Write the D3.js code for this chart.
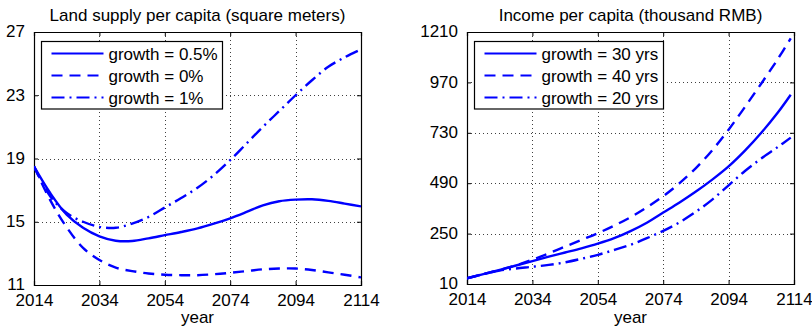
<!DOCTYPE html>
<html>
<head>
<meta charset="utf-8">
<script src="https://cdn.jsdelivr.net/npm/d3@7"></script>
<style>
  html, body { margin: 0; padding: 0; background: #fff; }
  svg { display: block; }
  text { font-family: "Liberation Sans", Arial, Helvetica, sans-serif; font-size: 17px; fill: #000; }
</style>
</head>
<body>
<svg id="chart" width="812" height="331"></svg>
<script>
// Simulation years (5-year steps)
const years = [2014, 2019, 2024, 2029, 2034, 2039, 2044, 2049, 2054, 2059, 2064,
               2069, 2074, 2079, 2084, 2089, 2094, 2099, 2104, 2109, 2114];
const incomeYears = [2014, 2019, 2024, 2029, 2034, 2039, 2044, 2049, 2054, 2059, 2064,
                     2069, 2074, 2079, 2084, 2089, 2094, 2099, 2104, 2109, 2113];

// Land supply per capita (square meters)
const landGrowth05 = [18.5, 16.8, 15.45, 14.62, 14.08, 13.8, 13.78, 13.95, 14.15, 14.35, 14.58,
                      14.88, 15.22, 15.62, 16.04, 16.3, 16.4, 16.42, 16.32, 16.15, 15.97];
const landGrowth0  = [18.5, 16.35, 14.65, 13.35, 12.58, 12.1, 11.88, 11.73, 11.65, 11.62, 11.62,
                      11.68, 11.77, 11.88, 11.99, 12.04, 12.04, 11.95, 11.8, 11.65, 11.48];
const landGrowth1  = [18.5, 16.6, 15.55, 15.0, 14.68, 14.62, 14.88, 15.3, 15.9, 16.5, 17.15,
                      17.95, 18.9, 19.95, 21.0, 22.0, 23.0, 23.95, 24.8, 25.4, 25.9];

// Income per capita (thousand RMB)
const income30 = [37, 57, 77, 98, 119, 140, 160, 180, 202, 228, 262,
                  302, 350, 398, 450, 507, 570, 645, 730, 825, 911];
const income40 = [37, 57, 77, 99, 126, 156, 188, 220, 252, 288, 328,
                  375, 428, 490, 562, 647, 745, 853, 965, 1080, 1180];
const income20 = [37, 57, 74, 84, 92, 101, 113, 130, 149, 172, 197,
                  228, 263, 304, 354, 412, 480, 548, 608, 662, 707];

const xTicks = [2014, 2034, 2054, 2074, 2094, 2114];
const landTicks = [11, 15, 19, 23, 27];
const incomeTicks = [10, 250, 490, 730, 970, 1210];

const landLabels = ["growth = 0.5%", "growth = 0%", "growth = 1%"];
const incomeLabels = ["growth = 30 yrs", "growth = 40 yrs", "growth = 20 yrs"];

const dashStyles = [null, "11,7", "13,5,2,5"];
const BLUE = "#0000ff";

const svg = d3.select("#chart");

function panel(opts) {
  const { x0, x1, y0, y1, yDomain, yTicks, title, xs, series, labels, legendBox } = opts;
  const x = d3.scaleLinear().domain([2014, 2114]).range([x0, x1]);
  const y = d3.scaleLinear().domain(yDomain).range([y1, y0]);
  const g = svg.append("g");

  // dotted grid at interior ticks
  const grid = g.append("g").attr("stroke", "#000").attr("stroke-width", 1)
    .attr("stroke-dasharray", "1,3").attr("stroke-opacity", 0.75);
  xTicks.slice(1, -1).forEach(t => {
    grid.append("line").attr("x1", Math.round(x(t)) + 0.5).attr("x2", Math.round(x(t)) + 0.5)
      .attr("y1", y0).attr("y2", y1);
  });
  yTicks.slice(1, -1).forEach(t => {
    grid.append("line").attr("y1", Math.round(y(t)) + 0.5).attr("y2", Math.round(y(t)) + 0.5)
      .attr("x1", x0).attr("x2", x1);
  });

  // axes: labelled bottom/left, inward ticks on all four sides
  const bottom = g.append("g").attr("transform", `translate(0,${y1})`)
    .call(d3.axisBottom(x).tickValues(xTicks).tickFormat(d3.format("d")).tickSize(-4).tickPadding(8));
  const left = g.append("g").attr("transform", `translate(${x0},0)`)
    .call(d3.axisLeft(y).tickValues(yTicks).tickFormat(d3.format("d")).tickSize(-4).tickPadding(9));
  const top = g.append("g").attr("transform", `translate(0,${y0})`)
    .call(d3.axisTop(x).tickValues(xTicks).tickFormat("").tickSize(-4));
  const right = g.append("g").attr("transform", `translate(${x1},0)`)
    .call(d3.axisRight(y).tickValues(yTicks).tickFormat("").tickSize(-4));
  [bottom, left, top, right].forEach(a => {
    a.select(".domain").attr("stroke", "#000").attr("stroke-width", 1.2);
    a.selectAll(".tick line").attr("stroke", "#000");
    a.selectAll("text").attr("font-size", null).attr("font-family", null).attr("fill", "#000");
  });
  bottom.selectAll("text").attr("dy", "0.76em");
  left.selectAll("text").attr("dy", "0.28em");

  // title and x label
  g.append("text").attr("x", (x0 + x1) / 2).attr("y", 21).attr("text-anchor", "middle").text(title);
  g.append("text").attr("x", (x0 + x1) / 2).attr("y", 323).attr("text-anchor", "middle").text("year");

  // data lines
  const lineGen = d3.line().x((d, i) => x(xs[i])).y(d => y(d)).curve(d3.curveCatmullRom.alpha(0.5));
  const clipId = "clip" + Math.round(x0);
  g.append("clipPath").attr("id", clipId).append("rect")
    .attr("x", x0).attr("y", y0).attr("width", x1 - x0).attr("height", y1 - y0);
  series.forEach((s, i) => {
    g.append("path").attr("d", lineGen(s)).attr("fill", "none").attr("stroke", BLUE)
      .attr("stroke-width", 2.4).attr("stroke-dasharray", dashStyles[i])
      .attr("clip-path", `url(#${clipId})`);
  });

  // legend
  const lg = g.append("g");
  lg.append("rect").attr("x", legendBox.x).attr("y", legendBox.y)
    .attr("width", legendBox.w).attr("height", legendBox.h)
    .attr("fill", "#fff").attr("stroke", "#000").attr("stroke-width", 1.2);
  labels.forEach((lab, i) => {
    const ly = legendBox.y + 12 + i * 22;
    lg.append("line").attr("x1", legendBox.x + 10).attr("x2", legendBox.x + 62)
      .attr("y1", ly).attr("y2", ly).attr("stroke", BLUE).attr("stroke-width", 2.1)
      .attr("stroke-dasharray", dashStyles[i]);
    lg.append("text").attr("x", legendBox.x + 67).attr("y", ly + 6).text(lab);
  });
}

panel({
  x0: 34, x1: 361, y0: 32, y1: 285,
  yDomain: [11, 27], yTicks: landTicks,
  title: "Land supply per capita (square meters)",
  xs: years,
  series: [landGrowth05, landGrowth0, landGrowth1],
  labels: landLabels,
  legendBox: { x: 41.5, y: 41.5, w: 181, h: 67.5 }
});

panel({
  x0: 467, x1: 794, y0: 32, y1: 284,
  yDomain: [10, 1210], yTicks: incomeTicks,
  title: "Income per capita (thousand RMB)",
  xs: incomeYears,
  series: [income30, income40, income20],
  labels: incomeLabels,
  legendBox: { x: 474.5, y: 41.5, w: 189, h: 67.5 }
});
</script>
</body>
</html>
